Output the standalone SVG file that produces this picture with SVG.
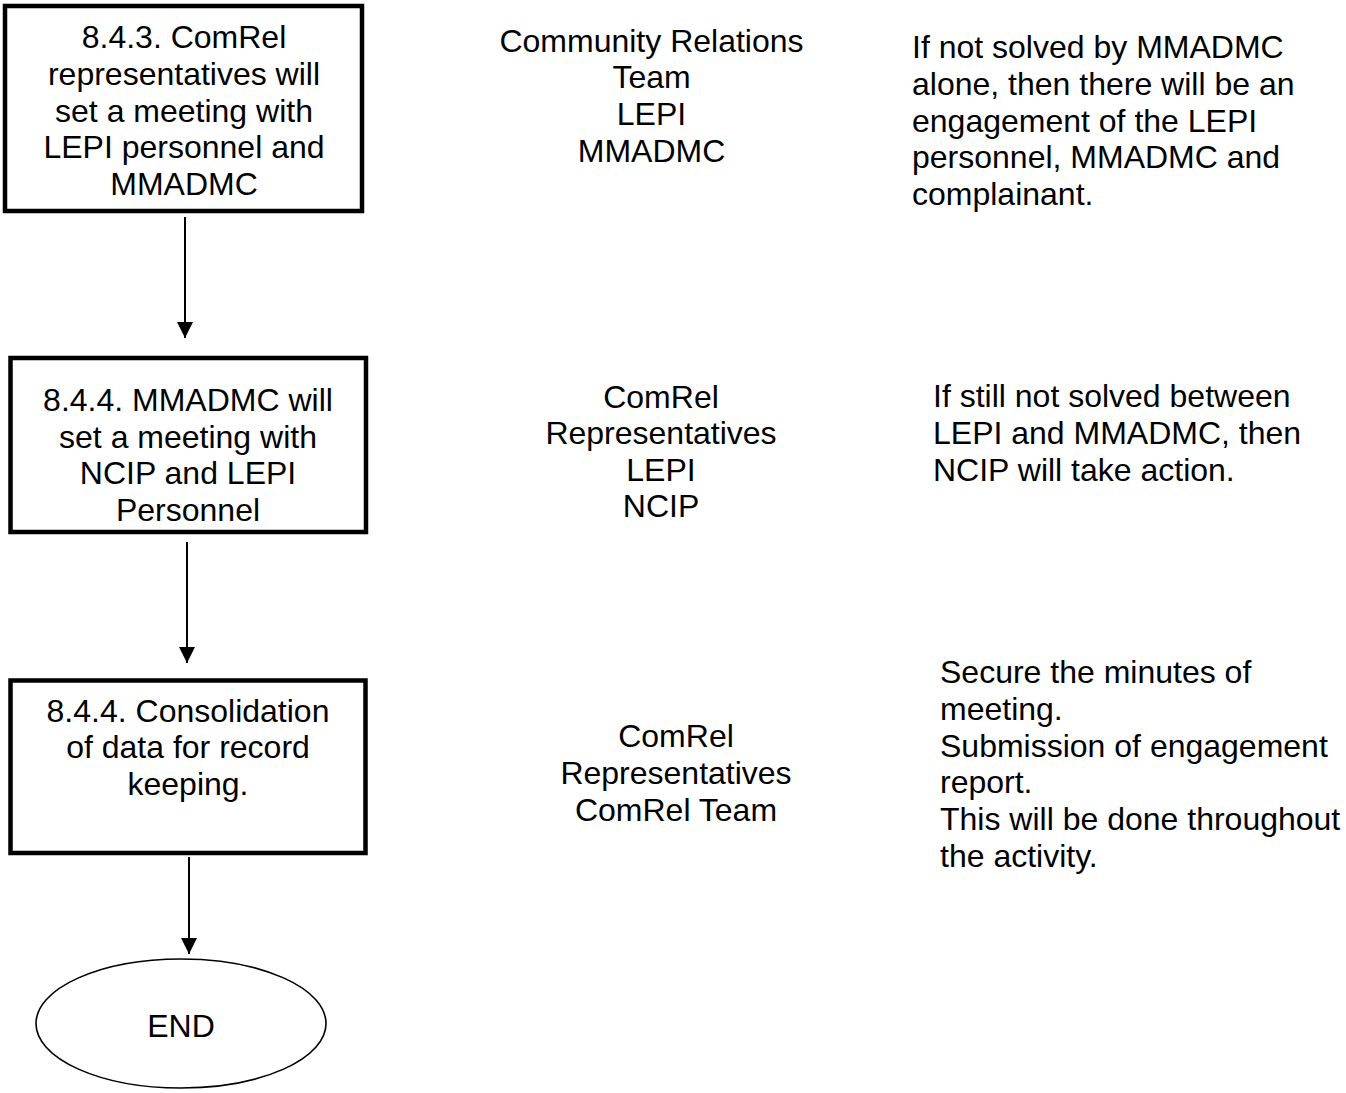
<svg xmlns="http://www.w3.org/2000/svg" width="1346" height="1093" viewBox="0 0 1346 1093">
<style>
text{font-family:"Liberation Sans",Arial,sans-serif;font-size:32px;fill:#000}
.c{text-anchor:middle}
.box{fill:#fff;stroke:#000;stroke-width:4.5}
.conn{stroke:#000;stroke-width:2;fill:none}
</style>
<defs>
<marker id="ah" markerUnits="userSpaceOnUse" markerWidth="16" markerHeight="17" refX="16" refY="8" orient="auto">
<path d="M0,0 L16,8 L0,16 Z" fill="#000"/>
</marker>
</defs>
<rect width="1346" height="1093" fill="#fff"/>
<g id="connectors">
<line class="conn" x1="185" y1="217" x2="185" y2="338" marker-end="url(#ah)"/>
<line class="conn" x1="187" y1="542" x2="187" y2="663" marker-end="url(#ah)"/>
<line class="conn" x1="189" y1="857" x2="189" y2="954" marker-end="url(#ah)"/>
</g>
<g id="step843">
<rect class="box" x="5" y="6" width="357" height="205"/>
<text class="c" x="184" y="48.3">8.4.3. ComRel</text>
<text class="c" x="184" y="85">representatives will</text>
<text class="c" x="184" y="121.7">set a meeting with</text>
<text class="c" x="184" y="158.3">LEPI personnel and</text>
<text class="c" x="184" y="195">MMADMC</text>
</g>
<g id="step844a">
<rect class="box" x="10.5" y="358" width="355.5" height="174"/>
<text class="c" x="188" y="411">8.4.4. MMADMC will</text>
<text class="c" x="188" y="447.5">set a meeting with</text>
<text class="c" x="188" y="484">NCIP and LEPI</text>
<text class="c" x="188" y="520.5">Personnel</text>
</g>
<g id="step844b">
<rect class="box" x="10.5" y="680.5" width="355" height="172.5"/>
<text class="c" x="188" y="721.7">8.4.4. Consolidation</text>
<text class="c" x="188" y="758.3">of data for record</text>
<text class="c" x="188" y="795">keeping.</text>
</g>
<g id="end">
<ellipse cx="181" cy="1023.5" rx="145" ry="64.5" fill="#fff" stroke="#000" stroke-width="1.6"/>
<text class="c" x="181" y="1036.5">END</text>
</g>
<g id="resp1">
<text class="c" x="651.5" y="51.5">Community Relations</text>
<text class="c" x="651.5" y="88.2">Team</text>
<text class="c" x="651.5" y="124.9">LEPI</text>
<text class="c" x="651.5" y="161.6">MMADMC</text>
</g>
<g id="resp2">
<text class="c" x="661" y="407.5">ComRel</text>
<text class="c" x="661" y="444">Representatives</text>
<text class="c" x="661" y="480.5">LEPI</text>
<text class="c" x="661" y="517">NCIP</text>
</g>
<g id="resp3">
<text class="c" x="676" y="747.3">ComRel</text>
<text class="c" x="676" y="784">Representatives</text>
<text class="c" x="676" y="820.5">ComRel Team</text>
</g>
<g id="note1">
<text x="912" y="58.3">If not solved by MMADMC</text>
<text x="912" y="95">alone, then there will be an</text>
<text x="912" y="131.7">engagement of the LEPI</text>
<text x="912" y="168.3">personnel, MMADMC and</text>
<text x="912" y="205">complainant.</text>
</g>
<g id="note2">
<text x="933" y="407.3">If still not solved between</text>
<text x="933" y="444">LEPI and MMADMC, then</text>
<text x="933" y="480.7">NCIP will take action.</text>
</g>
<g id="note3">
<text x="940" y="683.3">Secure the minutes of</text>
<text x="940" y="720">meeting.</text>
<text x="940" y="756.7">Submission of engagement</text>
<text x="940" y="793.3">report.</text>
<text x="940" y="830">This will be done throughout</text>
<text x="940" y="866.7">the activity.</text>
</g>
</svg>
